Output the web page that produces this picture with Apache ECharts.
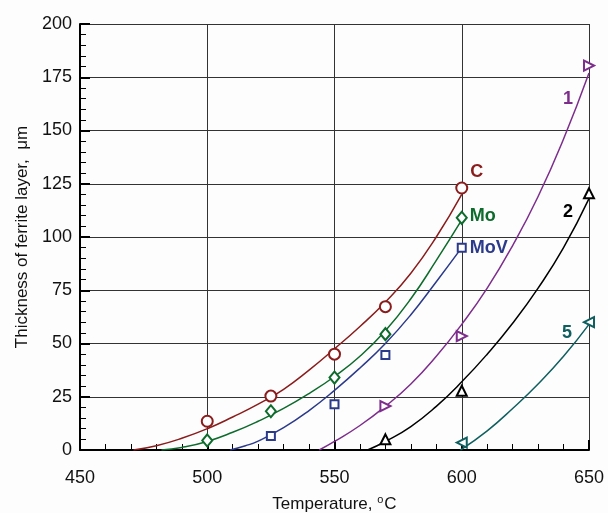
<!DOCTYPE html>
<html><head><meta charset="utf-8">
<script src="https://cdn.jsdelivr.net/npm/echarts@6/dist/echarts.min.js"></script>
<style>html,body{margin:0;padding:0;background:#fdfdfd}#c{width:608px;height:513px}</style>
</head><body><div id="c"></div>
<script>
// axis ticks
const xMin = 450, xMax = 650, xStep = 50;
const yMin = 0, yMax = 200, yStep = 25;

// series names
const names = ['C', 'Mo', 'MoV', '1', '2', '5'];

// measured points (temperature, thickness)
const cPts   = [[500,13.5],[525,25.3],[550,45],[570,67.3],[600,123]];
const moPts  = [[500,4.5],[525,18.2],[550,34],[570,54.4],[600,109]];
const movPts = [[525,6.6],[550,21.5],[570,44.6],[600,95]];
const s1Pts  = [[570,20.6],[600,53.5],[650,180.5]];
const s2Pts  = [[570,5],[600,27.8],[650,120.5]];
const s5Pts  = [[600,3.5],[650,60]];

// fitted curves
const cFit   = [[471,0],[480,2],[490,5.5],[500,10],[510,15.5],[520,21.5],[530,28.5],[540,37.5],[550,47.5],[560,58],[570,69.5],[580,83],[590,100],[600,120]];
const moFit  = [[482,0],[490,1.2],[500,4],[510,8.3],[520,13.5],[530,19.5],[540,26.5],[550,34.5],[560,44],[570,56],[580,71],[590,89],[600,108]];
const movFit = [[509,0],[515,2],[520,4.2],[530,10.5],[540,18.5],[550,28],[560,38.5],[570,50],[580,63.5],[590,79],[600,95]];
const s1Fit  = [[544,0],[550,4],[560,11.5],[570,20.5],[580,31],[590,44],[600,59],[610,76],[620,96],[630,119],[640,146],[650,177]];
const s2Fit  = [[563,0],[570,4],[580,11],[590,20.5],[600,32],[610,45],[620,59.5],[630,76],[640,95],[650,118]];
const s5Fit  = [[599.5,0],[610,9],[620,19.5],[630,31],[640,44],[650,59]];

const colors = ['#8a1c1c', '#0d6b2c', '#2b3a8a', '#7d2d8c', '#000000', '#0f5f60'];
const symbols = ['emptyCircle', 'emptyDiamond', 'emptyRect', 'emptyTriangle', 'emptyTriangle', 'emptyTriangle'];
const symbolRot = [0, 0, 0, -90, 0, 90];
const symbolSizes = [11, [10, 12], 8, 10, 10, 10];
const labelOffsets = [[15,-16],[21,-2],[27,0],[-21,33],[-21,19],[-22,11]];
const pts = [cPts, moPts, movPts, s1Pts, s2Pts, s5Pts];
const fits = [cFit, moFit, movFit, s1Fit, s2Fit, s5Fit];

const series = [];
names.forEach((n, i) => {
  series.push({
    name: n + ' fit', type: 'line', data: fits[i], smooth: true, showSymbol: false,
    lineStyle: { color: colors[i], width: 1.5 }, z: 2, silent: true
  });
  const d = pts[i].map((p, k) => {
    const item = { value: p };
    if (k === pts[i].length - 1) {
      item.label = {
        show: true, position: 'inside', offset: labelOffsets[i], formatter: n,
        color: colors[i], fontFamily: 'Liberation Sans', fontWeight: 'bold', fontSize: 18, opacity: 1
      };
    }
    return item;
  });
  series.push({
    name: n, type: 'scatter', data: d, symbol: symbols[i], symbolRotate: symbolRot[i],
    symbolSize: symbolSizes[i], itemStyle: { color: colors[i], borderWidth: 1, opacity: 1 }, z: 3
  });
});

const chart = echarts.init(document.getElementById('c'));
chart.setOption({
  backgroundColor: '#fdfdfd',
  animation: false,
  grid: { left: 80, right: 19, top: 24, bottom: 63, containLabel: false, outerBoundsMode: 'none' },
  xAxis: {
    type: 'value', min: xMin, max: xMax, interval: xStep,
    name: 'Temperature, {s|o}C', nameLocation: 'middle', nameGap: 44,
    nameTextStyle: { fontFamily: 'Liberation Sans', fontSize: 17, color: '#111',
      rich: { s: { fontSize: 11, padding: [0, 1, 9, 0], fontFamily: 'Liberation Sans', color: '#111' } } },
    axisLine: { lineStyle: { color: '#000', width: 2 } },
    axisTick: { inside: true, length: 10, lineStyle: { color: '#000', width: 2 } },
    minorTick: { show: true, splitNumber: 5, length: 6, lineStyle: { color: '#000', width: 1 } },
    axisLabel: { fontFamily: 'Liberation Sans', fontSize: 18, color: '#111', margin: 19 },
    splitLine: { show: true, lineStyle: { color: '#333', width: 1 } }
  },
  yAxis: {
    type: 'value', min: yMin, max: yMax, interval: yStep,
    name: 'Thickness of ferrite layer,  μm', nameLocation: 'middle', nameGap: 48,
    nameTextStyle: { fontFamily: 'Liberation Sans', fontSize: 17, color: '#111' },
    axisLine: { lineStyle: { color: '#000', width: 2 } },
    axisTick: { inside: true, length: 10, lineStyle: { color: '#000', width: 2 } },
    minorTick: { show: true, splitNumber: 5, length: 6, lineStyle: { color: '#000', width: 1 } },
    axisLabel: { fontFamily: 'Liberation Sans', fontSize: 18, color: '#111', margin: 8 },
    splitLine: { show: true, lineStyle: { color: '#333', width: 1 } }
  },
  series: series
});
</script>
</body></html>
